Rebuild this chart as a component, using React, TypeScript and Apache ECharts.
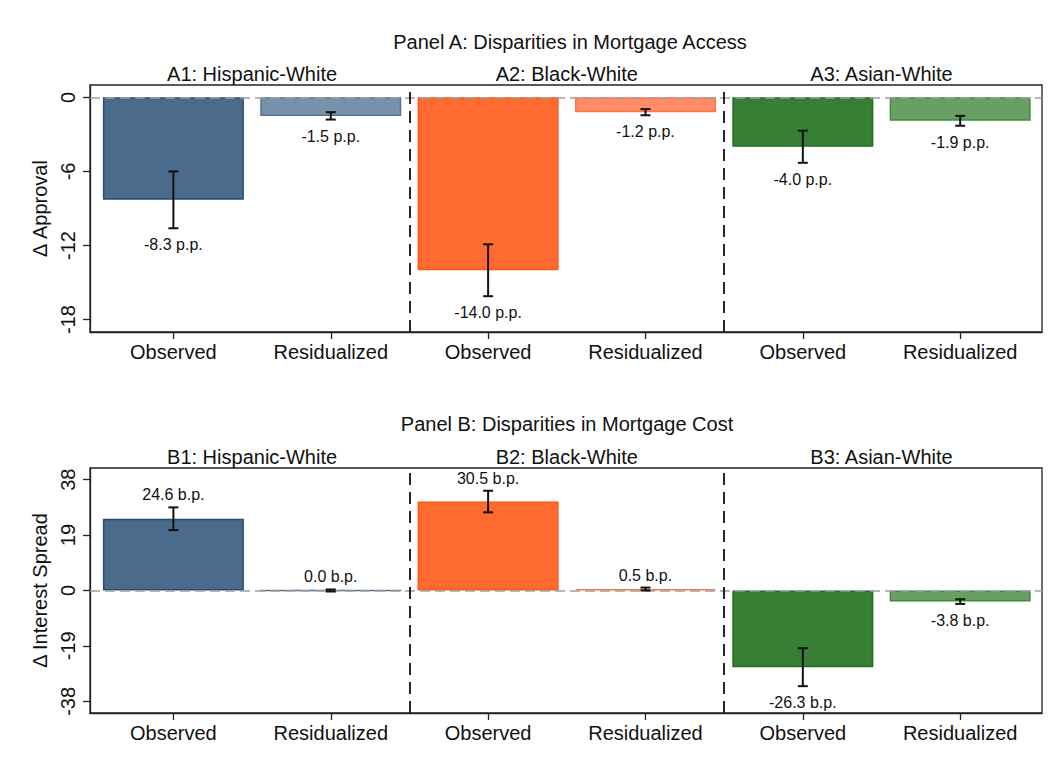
import React, { useEffect, useRef } from "react";
import * as echarts from "echarts";

const categories = ["Observed", "Residualized", "Observed", "Residualized", "Observed", "Residualized"];
const positions = [1, 2, 3, 4, 5, 6];
const panelTitles = ["Panel A: Disparities in Mortgage Access", "Panel B: Disparities in Mortgage Cost"];
const groupsA = ["A1: Hispanic-White", "A2: Black-White", "A3: Asian-White"];
const groupsB = ["B1: Hispanic-White", "B2: Black-White", "B3: Asian-White"];
const groupCenters = [1.5, 3.5, 5.5];
const separators = [2.5, 4.5];
const approval = [-8.3, -1.5, -14.0, -1.2, -4.0, -1.9];
const approvalErr = [2.3, 0.3, 2.1, 0.25, 1.3, 0.4];
const spread = [24.6, 0.0, 30.5, 0.5, -26.3, -3.8];
const spreadErr = [3.9, 0.35, 3.7, 0.5, 6.5, 0.8];
const approvalTicks = [-18, -12, -6, 0];
const spreadTicks = [-38, -19, 0, 19, 38];

const fills = ["#4a6b8b", "#7792ab", "#ff6a30", "#ff8c66", "#367f34", "#68a064"];
const borders = ["#2b4c6e", "#55738f", "#ff5412", "#ff7445", "#1f6b1f", "#3f8a3c"];

const FONT = "Liberation Sans, Arial, Helvetica, sans-serif";
const X_MIN = 0.47;
const X_MAX = 6.52;
const GRID_LEFT = 90;
const GRID_WIDTH = 952;

function xPix(v: number) {
  return GRID_LEFT + ((v - X_MIN) / (X_MAX - X_MIN)) * GRID_WIDTH;
}

export default function App() {
  const ref = useRef<HTMLDivElement>(null);
  useEffect(() => {
    if (!ref.current) return;
    const chart = echarts.init(ref.current, null, { renderer: "svg" });

    const grids = [
      { left: GRID_LEFT, top: 85, width: GRID_WIDTH, height: 247 },
      { left: GRID_LEFT, top: 468, width: GRID_WIDTH, height: 245 },
    ];

    const xAxes = [0, 1].map((i) => ({
      type: "value",
      gridIndex: i,
      min: X_MIN,
      max: X_MAX,
      position: "bottom",
      splitLine: { show: false },
      axisLine: { show: true, onZero: false, lineStyle: { color: "#222", width: 1.3 } },
      axisTick: { show: true, length: 7, customValues: positions, lineStyle: { color: "#222", width: 1.3 } },
      axisLabel: {
        customValues: positions,
        formatter: (v: number) => categories[Math.round(v) - 1] || "",
        fontSize: 20,
        fontFamily: FONT,
        color: "#111",
        margin: 10,
      },
    }));

    const yAxes = [
      { min: -19, max: 1, ticks: approvalTicks, name: "Δ Approval" },
      { min: -42, max: 42, ticks: spreadTicks, name: "Δ Interest Spread" },
    ].map((a, i) => ({
      type: "value",
      gridIndex: i,
      min: a.min,
      max: a.max,
      name: a.name,
      nameLocation: "middle",
      nameRotate: 90,
      nameGap: 34,
      nameTextStyle: { fontSize: 20, fontFamily: FONT, color: "#111" },
      splitLine: { show: false },
      axisLine: { show: true, onZero: false, lineStyle: { color: "#222", width: 1.3 } },
      axisTick: { show: true, length: 7, customValues: a.ticks, lineStyle: { color: "#222", width: 1.3 } },
      axisLabel: {
        customValues: a.ticks,
        rotate: 90,
        fontSize: 20,
        fontFamily: FONT,
        color: "#111",
        margin: 12,
      },
    }));

    const makeBars = (vals: number[], i: number) => ({
      type: "bar",
      xAxisIndex: i,
      yAxisIndex: i,
      barWidth: 141,
      z: 2,
      data: vals.map((v, k) => ({
        value: [positions[k], v],
        itemStyle: { color: fills[k], borderColor: borders[k], borderWidth: 1.5 },
      })),
      markLine: {
        silent: true,
        symbol: "none",
        label: { show: false },
        z: 5,
        data: [
          { yAxis: 0, lineStyle: { color: "#a0a0a0", type: [10, 5], width: 1.6 } },
          ...separators.map((s) => ({ xAxis: s, lineStyle: { color: "#111", type: [12, 7], width: 1.8 } })),
        ],
      },
    });

    const makeErr = (vals: number[], errs: number[], i: number, unit: string) => ({
      type: "custom",
      xAxisIndex: i,
      yAxisIndex: i,
      z: 10,
      encode: { x: 0, y: 1 },
      data: vals.map((v, k) => [positions[k], v, errs[k]]),
      renderItem: (params: any, api: any) => {
        const x = api.value(0);
        const v = api.value(1);
        const e = api.value(2);
        const hi = api.coord([x, v + e]);
        const lo = api.coord([x, v - e]);
        const cx = hi[0];
        const cap = 5;
        const ls = { stroke: "#111", lineWidth: 2 };
        const labelY = v >= 0 ? hi[1] - 12.5 : lo[1] + 16.5;
        return {
          type: "group",
          children: [
            { type: "line", shape: { x1: cx, y1: hi[1], x2: cx, y2: lo[1] }, style: ls },
            { type: "line", shape: { x1: cx - cap, y1: hi[1], x2: cx + cap, y2: hi[1] }, style: ls },
            { type: "line", shape: { x1: cx - cap, y1: lo[1], x2: cx + cap, y2: lo[1] }, style: ls },
            {
              type: "text",
              style: {
                text: v.toFixed(1) + " " + unit,
                x: cx,
                y: labelY,
                align: "center",
                verticalAlign: "middle",
                fontSize: 16,
                fontFamily: FONT,
                fill: "#111",
              },
            },
          ],
        };
      },
    });

    const textEl = (text: string, x: number, y: number) => ({
      type: "text",
      x,
      y,
      style: {
        text,
        align: "center",
        verticalAlign: "middle",
        fontSize: 20,
        fontFamily: FONT,
        fill: "#111",
      },
    });

    const graphics: any[] = [
      textEl(panelTitles[0], 570, 42),
      textEl(panelTitles[1], 567, 424),
      ...groupsA.map((g, k) => textEl(g, xPix(groupCenters[k]), 74)),
      ...groupsB.map((g, k) => textEl(g, xPix(groupCenters[k]), 457)),
    ];

    chart.setOption({
      animation: false,
      backgroundColor: "#fff",
      grid: grids.map((g) => ({ ...g, show: true, borderColor: "#222", borderWidth: 1.3, backgroundColor: "transparent" })),
      xAxis: xAxes,
      yAxis: yAxes,
      series: [
        makeBars(approval, 0),
        makeBars(spread, 1),
        makeErr(approval, approvalErr, 0, "p.p."),
        makeErr(spread, spreadErr, 1, "b.p."),
      ],
      graphic: graphics,
    });

    return () => chart.dispose();
  }, []);

  return <div ref={ref} style={{ position: "absolute", left: 0, top: 0, width: 1050, height: 772 }} />;
}
